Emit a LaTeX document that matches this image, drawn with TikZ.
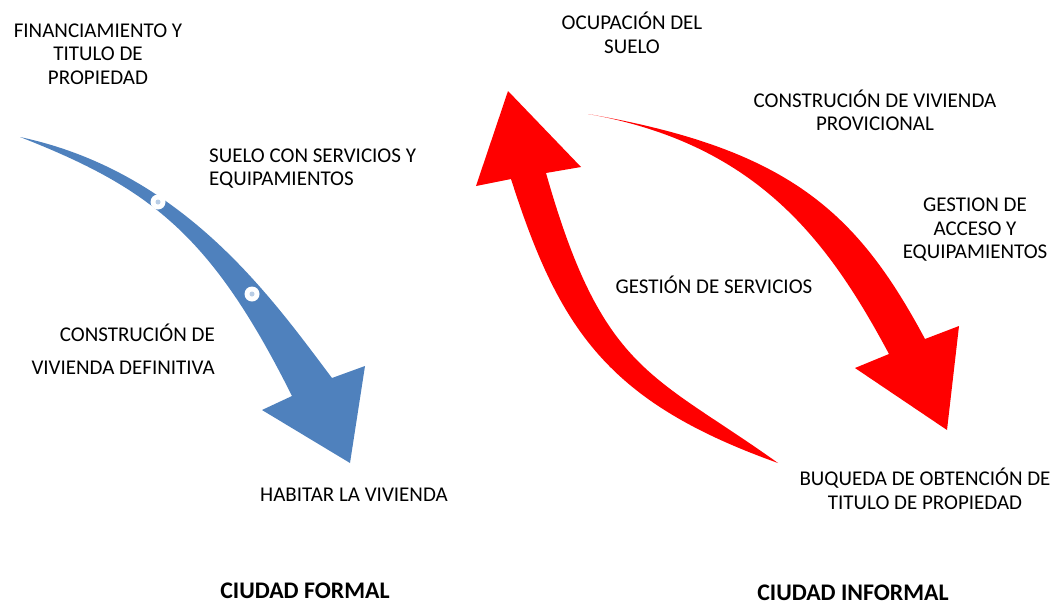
\documentclass[tikz,border=0pt]{standalone}
\usepackage{fontspec}
\setmainfont{Carlito}
\definecolor{formalblue}{HTML}{4F81BD}
\definecolor{informalred}{HTML}{FF0000}
\definecolor{dotblue}{HTML}{B9CDE5}

\begin{document}
\begin{tikzpicture}[x=1pt, y=-1pt,
                    step_label/.style={align=center, inner sep=0pt, font=\fontsize{21}{23.5}\selectfont},
                    city_label/.style={inner sep=0pt, font=\fontsize{23.8}{26}\selectfont\bfseries},
                    ]
    \useasboundingbox (0,0) rectangle (1059,605);

    % Ciudad formal arrow
    \fill[formalblue] (20,137) .. controls (184.5,172) and (273,300) .. (332,378)
        -- (365,366) -- (350,463) -- (262,410) -- (292,396)
        .. controls (211,234) and (150,188) .. (20,137) -- cycle;
    \foreach \cx/\cy in {158/202, 252/294} {
        \fill[white] (\cx,\cy) circle (7.5pt);
        \fill[dotblue] (\cx,\cy) circle (2.5pt);
    }

    % Ciudad informal arrows
    \fill[informalred] (778,463) .. controls (652,373) and (602.7,372.8) .. (546,173)
        -- (581,167) -- (508,91) -- (476,186) -- (511,179)
        .. controls (559,329) and (607,402) .. (778,463) -- cycle;
    \fill[informalred] (588,114) .. controls (790,149) and (857.5,213) .. (925,339)
        -- (959,326) -- (947,430) -- (855,368) -- (889,354)
        .. controls (829,242) and (758,144) .. (588,114) -- cycle;

    % Formal steps
    \node[step_label] (financiamiento) at (98,54) {FINANCIAMIENTO Y\\TITULO DE\\PROPIEDAD};
    \node[step_label, align=left, anchor=west] (suelo) at (209,168.5) {SUELO CON SERVICIOS Y\\EQUIPAMIENTOS};
    \node[step_label, align=right, anchor=east] (definitiva) at (215,349) {CONSTRUCIÓN DE\\[10pt]VIVIENDA DEFINITIVA};
    \node[step_label] (habitar) at (354,495) {HABITAR LA VIVIENDA};

    % Informal steps
    \node[step_label] (ocupacion) at (632,33) {OCUPACIÓN DEL\\SUELO};
    \node[step_label] (provisional) at (875,110.5) {CONSTRUCIÓN DE VIVIENDA\\PROVICIONAL};
    \node[step_label] (acceso) at (975,230) {GESTION DE\\ACCESO Y\\EQUIPAMIENTOS};
    \node[step_label] (servicios) at (714,285) {GESTIÓN DE SERVICIOS};
    \node[step_label] (titulo) at (925,489) {BUQUEDA DE OBTENCIÓN DE\\TITULO DE PROPIEDAD};

    % Cities
    \node[city_label] (formal) at (305,591) {CIUDAD FORMAL};
    \node[city_label] (informal) at (853,593) {CIUDAD INFORMAL};

\end{tikzpicture}
\end{document}
